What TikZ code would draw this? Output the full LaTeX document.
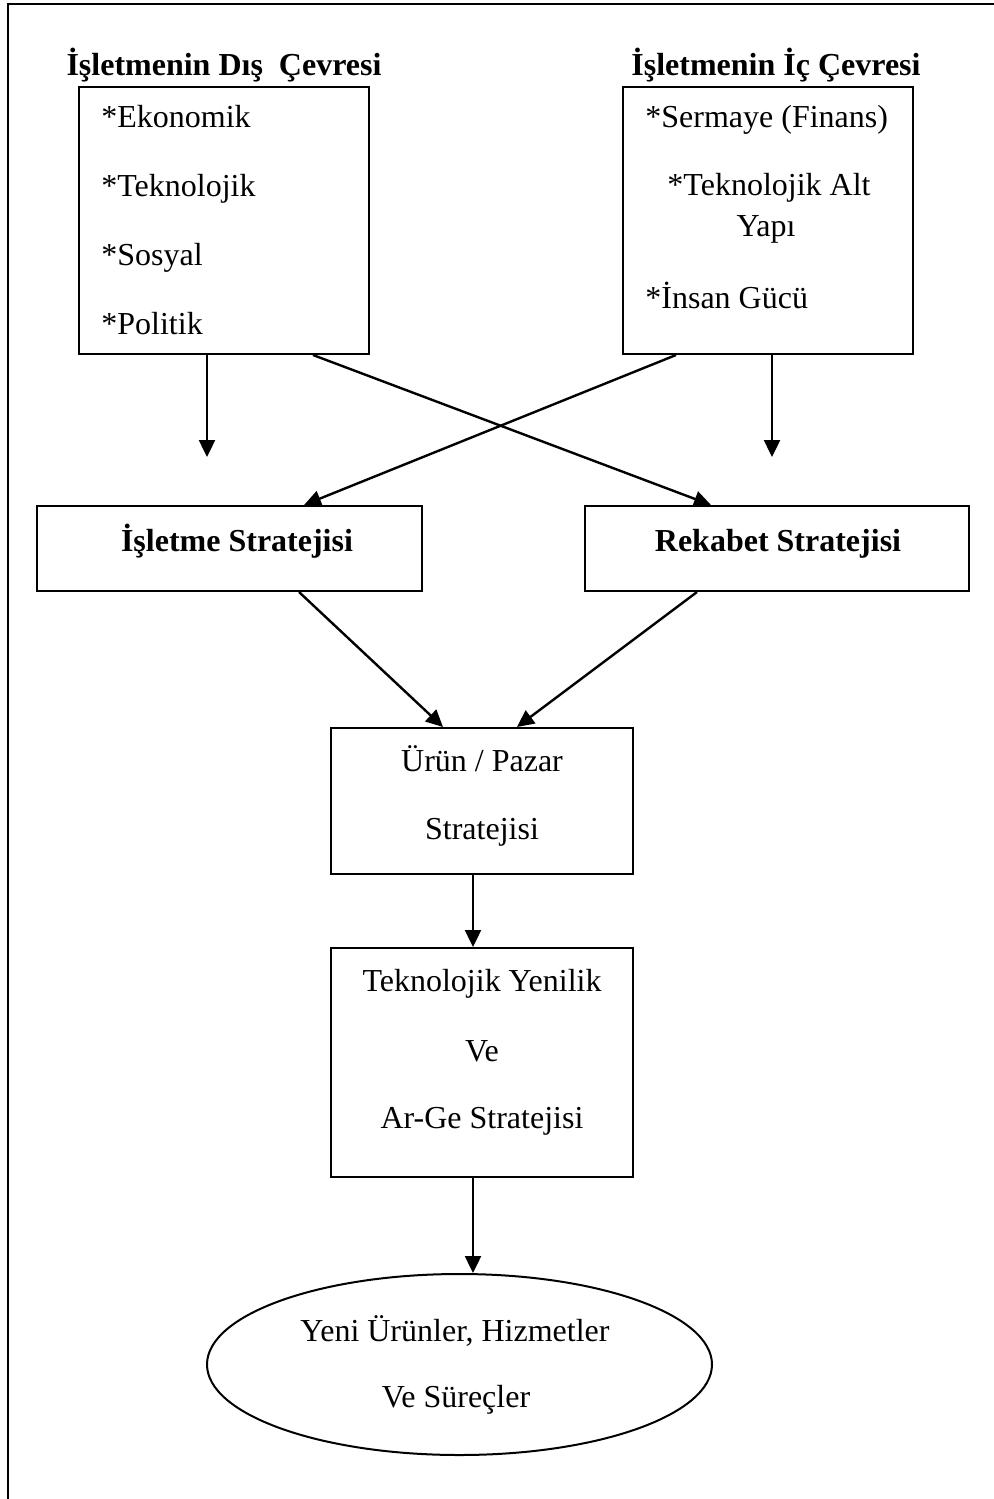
\documentclass[tikz,border=0pt]{standalone}
\usepackage{fontspec}
\setmainfont{Liberation Serif}
\usetikzlibrary{arrows.meta,shapes.geometric}

\tikzset{
  frameline/.style={line width=1pt},
  box/.style={draw, line width=1pt, rectangle, inner sep=0pt},
  oval/.style={draw, line width=1pt, ellipse, inner sep=0pt},
  txt/.style={font=\fontsize{16pt}{19pt}\selectfont, inner sep=0pt, anchor=base},
  txtl/.style={txt, anchor=base west},
  head/.style={txt, font=\fontsize{16pt}{19pt}\selectfont\bfseries},
  arr/.style={line width=1.2pt, -{Triangle[length=8.5pt,width=8pt]}}
}

\begin{document}
\begin{tikzpicture}[x=0.5pt, y=-0.5pt]
  \useasboundingbox (0,0) rectangle (994,1499);

  % outer frame (top and left sides)
  \coordinate (fa) at (8,1499);
  \coordinate (fb) at (8,4);
  \coordinate (fc) at (994,4);
  \draw[frameline] (fa) -- (fb) -- (fc);

  % environment headings
  \node[head] (hdis) at (224,75) {İşletmenin Dış~ Çevresi};
  \node[head] (hic)  at (776,75) {İşletmenin İç Çevresi};

  % environment boxes
  \node[box, minimum width=145pt, minimum height=133.5pt] (dis) at (224,220.5) {};
  \node[box, minimum width=145pt, minimum height=133.5pt] (ic)  at (768,220.5) {};

  \node[txtl] (d1) at (101,127) {*Ekonomik};
  \node[txtl] (d2) at (101,196) {*Teknolojik};
  \node[txtl] (d3) at (101,265) {*Sosyal};
  \node[txtl] (d4) at (101,334) {*Politik};

  \node[txtl] (i1) at (645,127) {*Sermaye (Finans)};
  \node[txt]  (i2) at (769,195) {*Teknolojik Alt};
  \node[txt]  (i3) at (766,236) {Yapı};
  \node[txtl] (i4) at (645,308) {*İnsan Gücü};

  % strategy boxes
  \node[box, minimum width=192.5pt, minimum height=42.5pt] (isl) at (229.5,548.5) {};
  \node[box, minimum width=192pt, minimum height=42.5pt]   (rek) at (777,548.5) {};
  \node[head] (islt) at (237,551) {İşletme Stratejisi};
  \node[head] (rekt) at (778,551) {Rekabet Stratejisi};

  \node[box, minimum width=151pt, minimum height=73pt] (urun) at (482,801) {};
  \node[txt] (u1) at (482,771) {Ürün / Pazar};
  \node[txt] (u2) at (482,839) {Stratejisi};

  \node[box, minimum width=151pt, minimum height=114.5pt] (tek) at (482,1062.5) {};
  \node[txt] (t1) at (482,991) {Teknolojik Yenilik};
  \node[txt] (t2) at (482,1061) {Ve};
  \node[txt] (t3) at (482,1128) {Ar-Ge Stratejisi};

  \node[oval, minimum width=252.5pt, minimum height=90.5pt] (ell) at (459.5,1364.5) {};
  \node[txt] (e1) at (455,1341) {Yeni Ürünler, Hizmetler};
  \node[txt] (e2) at (456,1407) {Ve Süreçler};

  % connector anchor points
  \coordinate (dl) at (207,457);
  \coordinate (dr) at (772,457);
  \coordinate (xa) at (313,0);
  \coordinate (xb) at (711,0);
  \coordinate (xc) at (676,0);
  \coordinate (xd) at (304,0);
  \coordinate (xe) at (299,0);
  \coordinate (xf) at (443,0);
  \coordinate (xg) at (697,0);
  \coordinate (xh) at (517,0);
  \coordinate (xm) at (473,0);

  % connectors
  \draw[arr] (dis.south -| dl) -- (dl);
  \draw[arr] (ic.south -| dr) -- (dr);
  \draw[arr] (dis.south -| xa) -- (rek.north -| xb);
  \draw[arr] (ic.south -| xc) -- (isl.north -| xd);
  \draw[arr] (isl.south -| xe) -- (urun.north -| xf);
  \draw[arr] (rek.south -| xg) -- (urun.north -| xh);
  \draw[arr] (urun.south -| xm) -- (tek.north -| xm);
  \draw[arr] (tek.south -| xm) -- (ell.north -| xm);
\end{tikzpicture}
\end{document}
